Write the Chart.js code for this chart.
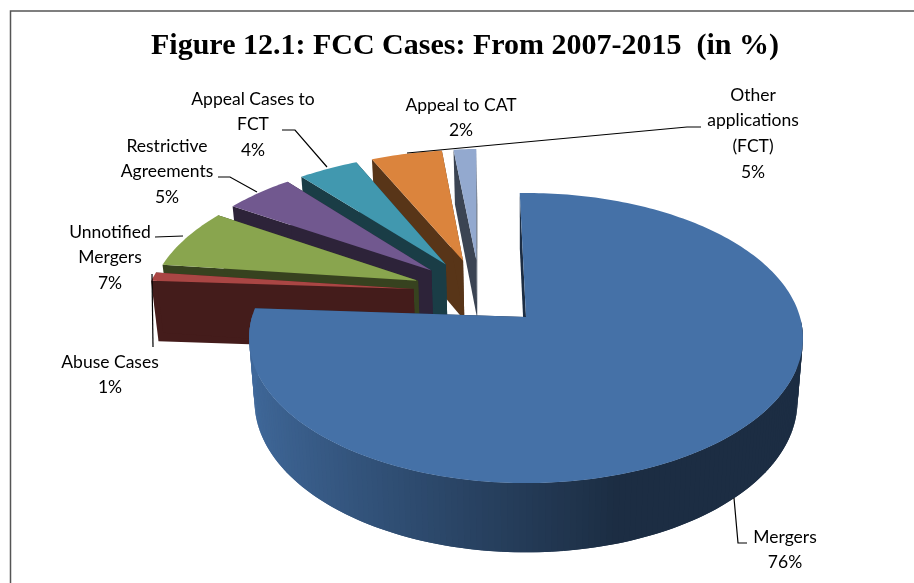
<!DOCTYPE html>
<html>
<head>
<meta charset="utf-8">
<title>FCC Cases</title>
<script src="https://cdn.jsdelivr.net/npm/chart.js@4/dist/chart.umd.js"></script>
<style>
  html, body { margin: 0; padding: 0; background: #fff; }
  canvas { display: block; }
</style>
</head>
<body>
<canvas id="fccPie" width="914" height="583"></canvas>
<script>
const categories = ['Mergers', 'Abuse Cases', 'Unnotified Mergers', 'Restrictive Agreements', 'Appeal Cases to FCT', 'Other applications (FCT)', 'Appeal to CAT']
// the printed labels are rounded
const shares = [76.4, 1, 7, 4.8, 4.2, 5, 1.6]
const sliceColors = ['#4571a7', '#aa4644', '#89a54e', '#71588f', '#4198af', '#db843d', '#93a9cf']
const labelLines = [
  ['Mergers', '76%'],
  ['Abuse Cases', '1%'],
  ['Unnotified', 'Mergers', '7%'],
  ['Restrictive', 'Agreements', '5%'],
  ['Appeal Cases to', 'FCT', '4%'],
  ['Other', 'applications', '(FCT)', '5%'],
  ['Appeal to CAT', '2%']
]

// where the text and leader lines sit, same order as categories
const labelLayout = [
  { x: 785, y: 537, leader: [[734, 498], [738, 543], [747, 543]] },
  { x: 110, y: 362, leader: [[152, 274], [153, 347]] },
  { x: 110, y: 232, leader: [[183, 236], [155, 237]] },
  { x: 167, y: 146, leader: [[257, 192], [230, 177], [218, 177]] },
  { x: 253, y: 99, leader: [[327, 167], [295, 130], [282, 130]] },
  { x: 753, y: 95, leader: [[407, 153], [687, 127], [701, 127]] },
  { x: 461, y: 105 }
]

// perspective of the tilted pie, radius 1 = one slice radius
const view = { x0: 526, y0: 317, a: 274, b: 142, tilt: 0.145, depth: 62, shrink: 1.02 }
const explode = 0.25

function project (u, v, low) {
  const w = 1 + view.tilt * v
  const s = low ? w * view.shrink : w
  return {
    x: view.x0 + view.a * u / s,
    y: view.y0 - view.b * v / s + (low ? view.depth / w : 0)
  }
}

function darken (hex, f) {
  const n = parseInt(hex.slice(1), 16)
  const c = [n >> 16, (n >> 8) & 255, n & 255].map(x => Math.round(x * f))
  return `rgb(${c[0]},${c[1]},${c[2]})`
}

function fillPoly (ctx, pts, color) {
  ctx.beginPath()
  pts.forEach((p, i) => i ? ctx.lineTo(p.x, p.y) : ctx.moveTo(p.x, p.y))
  ctx.closePath()
  ctx.fillStyle = color
  ctx.fill()
}

function drawSlice (ctx, arc, color, pieMid) {
  const a0 = arc.startAngle + Math.PI / 2
  const a1 = arc.endAngle + Math.PI / 2
  const mid = (a0 + a1) / 2
  // pie centre is pushed back so that Mergers ends up on the view origin
  const cu = explode * (Math.sin(mid) - Math.sin(pieMid))
  const cv = explode * (Math.cos(mid) - Math.cos(pieMid))
  const steps = Math.max(4, Math.ceil((a1 - a0) / 0.02))
  const rim = []
  for (let i = 0; i <= steps; i++) {
    const t = a0 + (a1 - a0) * i / steps
    rim.push({ t, u: cu + Math.sin(t), v: cv + Math.cos(t) })
  }
  const dark = darken(color, 0.4)

  // cut faces
  ;[rim[0], rim[steps]].forEach(r => {
    fillPoly(ctx, [project(cu, cv), project(r.u, r.v), project(r.u, r.v, true), project(cu, cv, true)], dark)
  })
  // outer wall, lit from the left, only the part that faces the viewer.
  // each strip runs into the next one so no seams show
  for (let i = 0; i < steps; i++) {
    const p = rim[i]
    const q = rim[Math.min(i + 2, steps)]
    if (Math.cos(p.t) > 0) continue
    const k = Math.min(1, Math.max(0, (Math.sin(p.t) + 1) / 1.3))
    fillPoly(ctx, [project(p.u, p.v), project(q.u, q.v), project(q.u, q.v, true), project(p.u, p.v, true)],
      darken(color, 0.93 - 0.53 * k))
  }
  // top face
  fillPoly(ctx, [project(cu, cv)].concat(rim.map(r => project(r.u, r.v))), color)
}

const tiltedPie = {
  id: 'tiltedPie',
  beforeDraw (chart) {
    const { ctx } = chart
    ctx.save()
    ctx.strokeStyle = '#555'
    ctx.lineWidth = 1.5
    ctx.beginPath()
    ctx.moveTo(10.5, 583)
    ctx.lineTo(10.5, 11)
    ctx.lineTo(914, 11)
    ctx.stroke()
    ctx.restore()
  },
  beforeDatasetsDraw (chart) {
    const { ctx } = chart
    const arcs = chart.getDatasetMeta(0).data
    const pieMid = (arcs[0].startAngle + arcs[0].endAngle) / 2 + Math.PI / 2
    ctx.save()
    // back slices first, Mergers goes on top
    for (let i = arcs.length - 1; i > 0; i--) drawSlice(ctx, arcs[i], sliceColors[i], pieMid)
    drawSlice(ctx, arcs[0], sliceColors[0], pieMid)
    ctx.restore()
    return false
  },
  afterDraw (chart) {
    const { ctx } = chart
    ctx.save()
    ctx.font = '17.5px Lato'
    ctx.textAlign = 'center'
    ctx.textBaseline = 'middle'
    ctx.fillStyle = '#000'
    ctx.strokeStyle = '#000'
    ctx.lineWidth = 1.2
    labelLines.forEach((lines, i) => {
      const pos = labelLayout[i]
      lines.forEach((line, n) => ctx.fillText(line, pos.x, pos.y + n * 25.8))
      if (pos.leader) {
        ctx.beginPath()
        pos.leader.forEach((p, n) => n ? ctx.lineTo(p[0], p[1]) : ctx.moveTo(p[0], p[1]))
        ctx.stroke()
      }
    })
    ctx.restore()
  }
}

new Chart(document.getElementById('fccPie'), {
  type: 'pie',
  data: {
    labels: categories,
    datasets: [{ data: shares, backgroundColor: sliceColors, borderWidth: 0 }]
  },
  options: {
    responsive: false,
    animation: false,
    rotation: -1.5,
    layout: { padding: { left: 16 } },
    plugins: {
      legend: { display: false },
      tooltip: { enabled: false },
      title: {
        display: true,
        text: 'Figure 12.1: FCC Cases: From 2007-2015  (in %)',
        color: '#000',
        font: { family: 'Liberation Serif', size: 30, weight: 'bold' },
        padding: { top: 28, bottom: 10 }
      }
    }
  },
  plugins: [tiltedPie]
})
</script>
</body>
</html>
